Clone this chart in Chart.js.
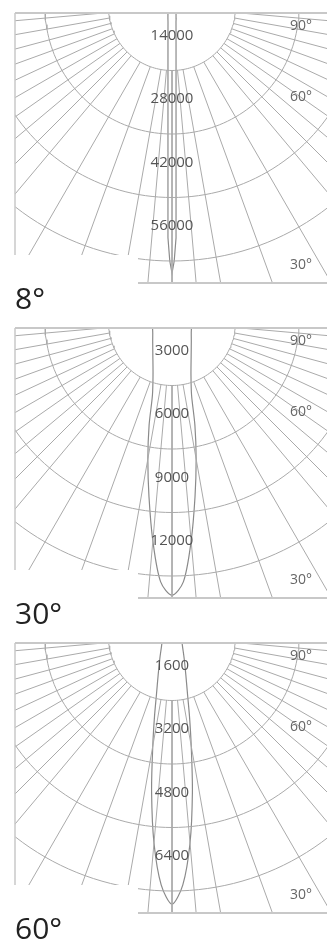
<!DOCTYPE html>
<html>
<head>
<meta charset="utf-8">
<script src="https://cdn.jsdelivr.net/npm/chart.js@4.4.0/dist/chart.umd.min.js"></script>
<style>
body { margin: 0; background: #fff; width: 327px; height: 951px; overflow: hidden; font-family: "Open Sans", sans-serif; }
.panel { position: relative; width: 327px; height: 315px; }
.panel canvas { position: absolute; left: 0; top: 0; }
.beam { position: absolute; left: 15px; top: 283px; font-size: 30px; line-height: 30px; color: #222; }
</style>
</head>
<body>
<div class="panel"><canvas id="c8" width="327" height="315"></canvas><div class="beam" id="b0"></div></div>
<div class="panel"><canvas id="c30" width="327" height="315"></canvas><div class="beam" id="b1"></div></div>
<div class="panel"><canvas id="c60" width="327" height="315"></canvas><div class="beam" id="b2"></div></div>
<script>
const beamLabels = ["8°", "30°", "60°"];

// ring values (cd) of each diagram
const ringTicks8 = [14000, 28000, 42000, 56000];
const ringTicks30 = [3000, 6000, 9000, 12000];
const ringTicks60 = [1600, 3200, 4800, 6400];

// grid rays and angle labels
const gridAngles = [0, 5, 10, 20, 30, 40, 45, 50, 55, 60, 65, 70, 75, 80, 85, 90];
const angleTicks = ["90°", "60°", "30°"];

// intensity curves (cd)
const angles8 = [0, 0.5, 1, 1.5, 2, 3, 4, 5, 7.5, 10, 15, 20, 30, 45, 60, 75, 90];
const intensity8 = [58700, 56000, 50900, 34000, 25600, 16900, 12700, 10200, 6900, 5100, 3400, 2670, 1780, 1270, 1020, 910, 890];
const anglesWide = [0, 2.5, 5, 7.5, 10, 12.5, 15, 20, 30, 45, 60, 75, 90];
const intensity30 = [12900, 12290, 10380, 8330, 6570, 5000, 3570, 2620, 1810, 1290, 1050, 950, 900];
const intensity60 = [6730, 6250, 5210, 3940, 2790, 2030, 1520, 1020, 610, 380, 290, 230, 200];

// layout, pixels inside each canvas
const W = 327, H = 315, CX = 172, CY = 7, STEP = 63.5;
const FRAME = { left: 15, right: 327, top: 13, bottom: 283, cutX: 138, cutY: 255 };
const ANGLE_LABEL_POS = { "90°": [312, 26], "60°": [312, 97], "30°": [312, 265] };
const GRID = "#aaaaaa";

function polar(a, r) {
  const t = a * Math.PI / 180;
  return { x: r * Math.sin(t), y: r * Math.cos(t) };
}

function line(data, color, width, tension) {
  return { data: data, showLine: true, borderColor: color, borderWidth: width, pointRadius: 0, tension: tension || 0, fill: false };
}

const framePlugin = {
  id: "frame",
  beforeDatasetsDraw(chart) {
    const ctx = chart.ctx;
    ctx.save();
    ctx.beginPath();
    ctx.moveTo(FRAME.left, FRAME.top);
    ctx.lineTo(FRAME.right, FRAME.top);
    ctx.lineTo(FRAME.right, FRAME.bottom);
    ctx.lineTo(FRAME.cutX, FRAME.bottom);
    ctx.lineTo(FRAME.cutX, FRAME.cutY);
    ctx.lineTo(FRAME.left, FRAME.cutY);
    ctx.closePath();
    ctx.clip();
  },
  afterDatasetsDraw(chart) {
    const ctx = chart.ctx;
    ctx.restore();
    ctx.save();
    ctx.strokeStyle = "#c8c8c8";
    ctx.lineWidth = 2;
    ctx.beginPath();
    ctx.moveTo(FRAME.left, FRAME.top);
    ctx.lineTo(FRAME.right, FRAME.top);
    ctx.moveTo(FRAME.cutX, FRAME.bottom);
    ctx.lineTo(FRAME.right, FRAME.bottom);
    ctx.stroke();
    ctx.lineWidth = 1.5;
    ctx.beginPath();
    ctx.moveTo(FRAME.left, FRAME.top);
    ctx.lineTo(FRAME.left, FRAME.cutY);
    ctx.stroke();

    const ticks = chart.options.ringTicks;
    const step = ticks[1] - ticks[0];
    const xs = chart.scales.x, ys = chart.scales.y;
    ctx.fillStyle = "#555";
    ctx.font = "15px 'Open Sans'";
    ctx.textAlign = "center";
    ctx.textBaseline = "middle";
    ticks.forEach(v => {
      ctx.fillText(String(v), xs.getPixelForValue(0), ys.getPixelForValue(v - 0.55 * step));
    });
    ctx.fillStyle = "#666";
    ctx.font = "14px 'Open Sans'";
    ctx.textAlign = "right";
    angleTicks.forEach(t => {
      const p = ANGLE_LABEL_POS[t];
      ctx.fillText(t, p[0], p[1]);
    });
    ctx.restore();
  }
};

function makeChart(id, ticks, angles, values, tension) {
  const step = ticks[1] - ticks[0];
  const k = step / STEP;
  const datasets = [];
  const rings = ticks.concat([ticks[ticks.length - 1] + step]);
  rings.forEach(v => {
    const pts = [];
    for (let a = -90; a <= 90; a += 2) pts.push(polar(a, v));
    datasets.push(line(pts, GRID, 1));
  });
  const rOut = step * 6;
  gridAngles.forEach(a => {
    const sides = a === 0 ? [0] : [-a, a];
    sides.forEach(s => {
      datasets.push(line([polar(s, step), polar(s, rOut)], GRID, 1));
    });
  });
  const curve = [];
  for (let i = angles.length - 1; i > 0; i--) curve.push(polar(-angles[i], values[i]));
  for (let i = 0; i < angles.length; i++) curve.push(polar(angles[i], values[i]));
  datasets.push(line(curve, "#8a8a8a", 1.2, tension));

  return new Chart(document.getElementById(id), {
    type: "scatter",
    data: { datasets: datasets },
    options: {
      ringTicks: ticks,
      responsive: false,
      animation: false,
      events: [],
      layout: { padding: 0 },
      plugins: { legend: { display: false }, tooltip: { enabled: false } },
      scales: {
        x: { type: "linear", display: false, min: -CX * k, max: (W - CX) * k },
        y: { type: "linear", display: false, reverse: true, min: -CY * k, max: (H - CY) * k }
      }
    },
    plugins: [framePlugin]
  });
}

beamLabels.forEach((t, i) => { document.getElementById("b" + i).textContent = t; });
makeChart("c8", ringTicks8, angles8, intensity8, 0);
makeChart("c30", ringTicks30, anglesWide, intensity30, 0.3);
makeChart("c60", ringTicks60, anglesWide, intensity60, 0.3);
</script>
</body>
</html>
